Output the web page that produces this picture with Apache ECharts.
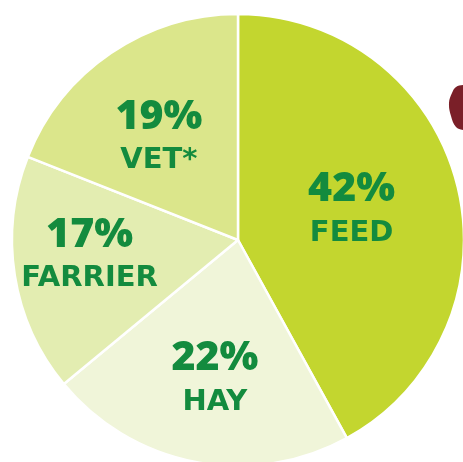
<!DOCTYPE html>
<html>
<head>
<meta charset="utf-8">
<script src="https://cdn.jsdelivr.net/npm/echarts@6/dist/echarts.min.js"></script>
<style>
html,body{margin:0;padding:0;background:#fff;}
#c{width:463px;height:462px;}
</style>
</head>
<body>
<div id="c"></div>
<script>
const categories = ['FEED', 'HAY', 'FARRIER', 'VET*'];
const values = [42, 22, 17, 19];
const colors = ['#c3d62f', '#f0f5d9', '#e3edb1', '#dbe68b'];
// label placement: distance (fraction of radius) and angular shift (deg) from slice middle
const labelDist = [0.52, 0.62, 0.66, 0.575];
const labelAngleShift = [0, -1.4, 2.8, -3.6];

const CX = 238, CY = 240, R = 226;
const chart = echarts.init(document.getElementById('c'), null, {renderer: 'canvas'});
chart.setOption({
  backgroundColor: '#ffffff',
  animation: false,
  graphic: [{
    type: 'polygon',
    shape: {
      smooth: 0.4,
      points: [[452, 93], [456, 87], [463, 85], [470, 86], [470, 130], [463, 130], [456, 127], [451, 116], [449, 103]]
    },
    style: {fill: '#7a1f28'}
  }],
  series: [{
    type: 'pie',
    center: [CX, CY],
    radius: [0, R],
    startAngle: 90,
    clockwise: true,
    avoidLabelOverlap: false,
    itemStyle: {borderColor: '#ffffff', borderWidth: 2.5},
    label: {
      position: 'inside',
      formatter: p => '{a|' + p.value + '%}\n{b|' + p.name + '}',
      rich: {
        a: {fontFamily: 'Open Sans', fontWeight: 800, fontSize: 41, color: '#138b3e', lineHeight: 48, align: 'center'},
        b: {fontFamily: 'DejaVu Sans', fontWeight: 'bold', fontSize: 29, color: '#138b3e', lineHeight: 40, align: 'center'}
      }
    },
    labelLine: {show: false},
    labelLayout: function (params) {
      const r = params.labelRect;
      const lx = r.x + r.width / 2, ly = r.y + r.height / 2;
      const i = params.dataIndex;
      const th = Math.atan2(ly - CY, lx - CX) + labelAngleShift[i] * Math.PI / 180;
      const d = labelDist[i] * R;
      return {x: CX + d * Math.cos(th), y: CY + d * Math.sin(th)};
    },
    data: categories.map((n, i) => ({name: n, value: values[i], itemStyle: {color: colors[i]}}))
  }]
});
</script>
</body>
</html>
